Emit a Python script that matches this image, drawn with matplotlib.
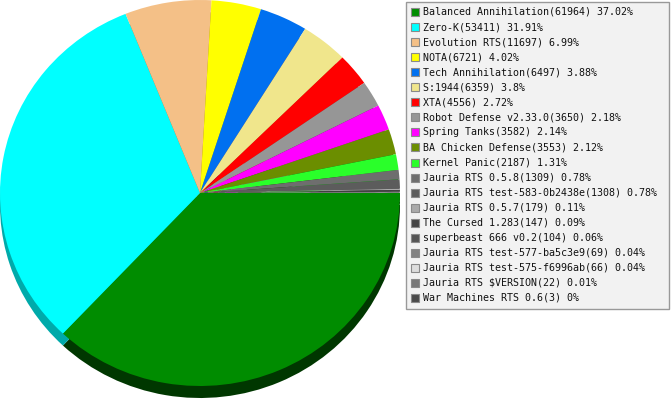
import matplotlib
matplotlib.use("Agg")
import matplotlib.pyplot as plt
import matplotlib.colors as mcolors

# games and how many times each was played
games = ["Balanced Annihilation", "Zero-K", "Evolution RTS", "NOTA", "Tech Annihilation",
         "S:1944", "XTA", "Robot Defense v2.33.0", "Spring Tanks", "BA Chicken Defense",
         "Kernel Panic", "Jauria RTS 0.5.8", "Jauria RTS test-583-0b2438e", "Jauria RTS 0.5.7",
         "The Cursed 1.283", "superbeast 666 v0.2", "Jauria RTS test-577-ba5c3e9",
         "Jauria RTS test-575-f6996ab", "Jauria RTS $VERSION", "War Machines RTS 0.6"]
counts = [61964, 53411, 11697, 6721, 6497, 6359, 4556, 3650, 3582, 3553,
          2187, 1309, 1308, 179, 147, 104, 69, 66, 22, 3]
colors = ["#008c00", "#00ffff", "#f4c087", "#ffff00", "#0070f0", "#f0e68c", "#ff0000",
          "#969696", "#ff00ff", "#6b8e00", "#2aff2a", "#6e6e6e", "#5c5c5c", "#aaaaaa",
          "#444444", "#555555", "#828282", "#dddddd", "#787878", "#4a4a4a"]

W, H = 671, 400
fig = plt.figure(figsize=(W / 100, H / 100), dpi=100)
fig.patch.set_facecolor("white")


def darker(c, d=85):
    r, g, b = [int(round(v * 255)) for v in mcolors.to_rgb(c)]
    return "#%02x%02x%02x" % (max(r - d, 0), max(g - d, 0), max(b - d, 0))


# pie axes: 400 px wide, full height; 1 unit = 200 px in x, 193 px in y
RY = 193.0
DEPTH = 12.0
pax = fig.add_axes([0, 0, 400 / W, 1])
pax.pie(counts, colors=[darker(c) for c in colors], startangle=0, counterclock=False,
        center=(0, -DEPTH / RY), radius=1, wedgeprops=dict(linewidth=0))
pax.pie(counts, colors=colors, startangle=0, counterclock=False,
        center=(0, 0), radius=1, wedgeprops=dict(linewidth=0))
pax.set_aspect("auto")
pax.set_xlim(-1, 1)
pax.set_ylim(1 - H / RY, 1)
pax.axis("off")

# legend drawn in pixel coords
lax = fig.add_axes([0, 0, 1, 1])
lax.set_xlim(0, W); lax.set_ylim(H, 0); lax.axis("off")
lax.add_patch(plt.Rectangle((407, 3), 263, 307, fc="#a0a0a0", ec="none"))
lax.add_patch(plt.Rectangle((405.5, 1.5), 263, 307, fc="#f2f2f2", ec="#999999", lw=1))
total = sum(counts)
for i, (g, n, c) in enumerate(zip(games, counts, colors)):
    y = 12 + i * 15.05
    lax.add_patch(plt.Rectangle((410.5, y - 4), 8, 8, fc=c, ec="#8a8a8a", lw=0.8))
    pct = f"{round(100 * n / total, 2):g}"
    lax.text(423, y, f"{g}({n}) {pct}%", fontsize=7.2, family="DejaVu Sans Mono",
             va="center", ha="left", color="#111111")

fig.savefig("out.png", dpi=100)
